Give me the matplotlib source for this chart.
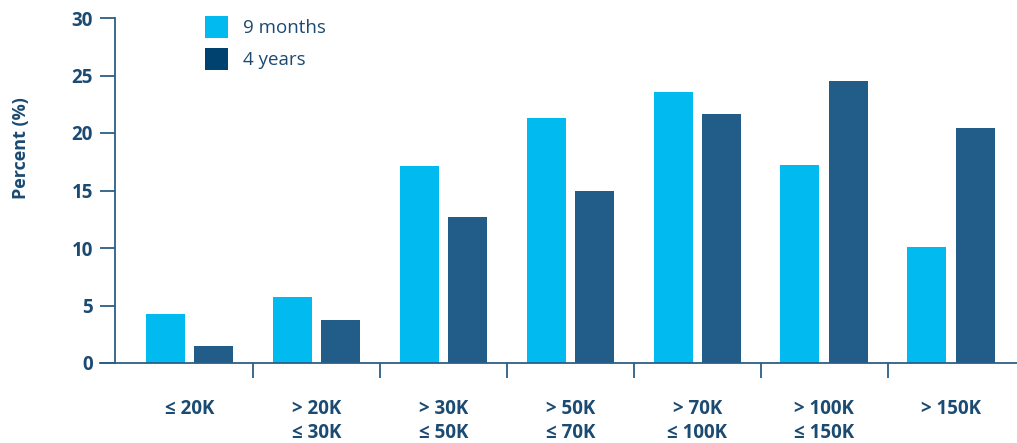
import matplotlib
matplotlib.use("Agg")
import matplotlib.pyplot as plt
from matplotlib.patches import Patch
import numpy as np

categories = ["≤ 20K", "> 20K\n≤ 30K", "> 30K\n≤ 50K", "> 50K\n≤ 70K",
              "> 70K\n≤ 100K", "> 100K\n≤ 150K", "> 150K"]
months9 = [4.3, 5.7, 17.1, 21.3, 23.6, 17.2, 10.1]
years4 = [1.5, 3.7, 12.7, 15.0, 21.65, 24.5, 20.4]
series_names = ["9 months", "4 years"]
yticks = [0, 5, 10, 15, 20, 25, 30]

c_light = "#00baf0"
c_dark = "#215d88"
c_dark_leg = "#00426f"
c_text = "#1b4a72"
c_axis = "#2b5f86"

plt.rcParams['font.family'] = ['Open Sans', 'DejaVu Sans']

W, H = 1017, 443
fig = plt.figure(figsize=(W / 100, H / 100), dpi=100)
ax = fig.add_axes([100 / W, (H - 363) / H, (W - 100) / W, (363 - 18) / H])

x = np.arange(len(categories))
bw = 0.307
off = 0.19
ax.bar(x - off, months9, bw, color=c_light, zorder=2)
ax.bar(x + off, years4, bw, color=c_dark, zorder=2)

ax.set_xlim(-0.705, 6.52)
ax.set_ylim(0, 30)

for s in ["top", "right"]:
    ax.spines[s].set_visible(False)
ax.spines["left"].set_position(("data", -0.587))
ax.spines["left"].set_color(c_axis)
ax.spines["left"].set_linewidth(1.3)
ax.spines["bottom"].set_color(c_axis)
ax.spines["bottom"].set_linewidth(1.3)

ax.set_yticks(yticks)
ax.tick_params(axis="y", direction="out", length=10.8, width=1.3, color=c_axis,
               labelsize=13.5, labelcolor=c_text, pad=5)
for lab in ax.get_yticklabels():
    lab.set_fontweight("bold")

ax.set_xticks(x)
ax.set_xticklabels(categories, fontsize=13.5, color=c_text, fontweight="bold",
                   linespacing=1.25)
ax.tick_params(axis="x", which="major", length=0, pad=26)
ax.set_xticks(x[:-1] + 0.5, minor=True)
ax.tick_params(axis="x", which="minor", direction="out", length=11, width=1.3,
               color=c_axis)

ax.set_ylabel("Percent (%)", fontsize=13, color=c_text, fontweight="bold")
ax.yaxis.set_label_coords(-70 / (W - 100), (363 - 148) / (363 - 18))

handles = [Patch(facecolor=c_light, edgecolor="none"),
           Patch(facecolor=c_dark_leg, edgecolor="none")]
leg = ax.legend(handles, series_names, loc="upper left",
                bbox_to_anchor=(205 / W, 1 - 16 / H), bbox_transform=fig.transFigure,
                frameon=False, fontsize=13.5, handlelength=1.25, handleheight=1.45,
                handletextpad=0.8, labelspacing=0.5, borderpad=0, borderaxespad=0)
for t in leg.get_texts():
    t.set_color(c_text)

fig.savefig("out.png", dpi=100)
